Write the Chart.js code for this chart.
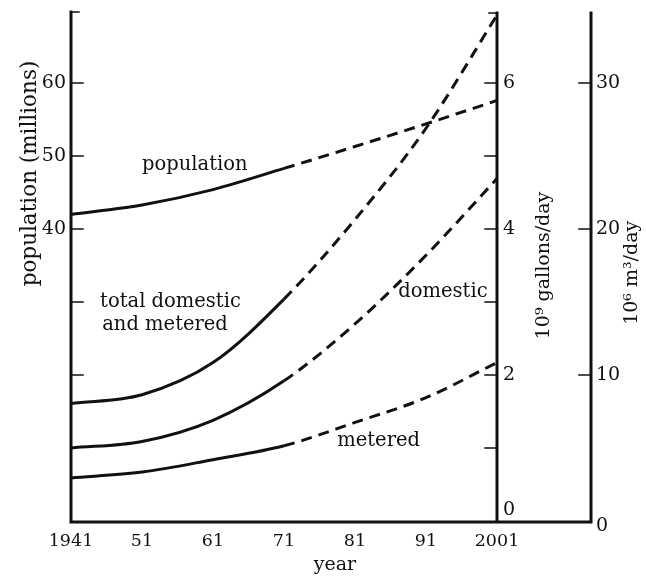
<!DOCTYPE html>
<html>
<head>
<meta charset="utf-8">
<script src="https://cdn.jsdelivr.net/npm/chart.js@4"></script>
<style>
  html, body { margin: 0; padding: 0; background: #fff; }
</style>
</head>
<body>
<canvas id="chart" width="646" height="577"></canvas>
<script>
// values
const years = [1941, 1951, 1961, 1971, 1981, 1991, 2001];
const yearLabels = ["1941", "51", "61", "71", "81", "91", "2001"];
const population = [42.0, 43.3, 45.4, 48.3, 51.3, 54.4, 57.6];  // millions
const totalUse = [1.61, 1.73, 2.17, 3.04, 4.13, 5.38, 6.93];      // 10^9 gallons/day
const domesticUse = [1.0, 1.09, 1.38, 1.92, 2.7, 3.64, 4.69];
const meteredUse = [0.59, 0.67, 0.84, 1.03, 1.35, 1.69, 2.17];
const lastMeasured = 1971; // projection (dashed) after this year

const popTicks = [20, 30, 40, 50, 60];
const popTickLabels = [40, 50, 60];
const galTicks = [1, 2, 3, 4, 5, 6];
const galTickLabels = [0, 2, 4, 6];
const m3Ticks = [10, 20, 30];
const m3TickLabels = [0, 10, 20, 30];

const FONT = "'DejaVu Serif', serif";
const INK = "#111";

const lineStyle = {
  borderColor: INK,
  borderWidth: 3,
  pointRadius: 0,
  fill: false,
  cubicInterpolationMode: "monotone",
  borderCapStyle: "butt",
  segment: {
    borderDash: (ctx) => (ctx.p0.parsed.x >= lastMeasured ? [11, 7] : undefined),
  },
};

const toPoints = (vals) => vals.map((v, i) => ({ x: years[i], y: v }));

const axesPlugin = {
  id: "axesPlugin",
  afterDraw(chart) {
    const { ctx, chartArea, scales } = chart;
    const { left, right, top, bottom } = chartArea;
    const m3X = right + 94;
    const yPop = scales.yPop, yGal = scales.yGal, yM3 = scales.yM3, x = scales.x;

    ctx.save();
    ctx.strokeStyle = INK;
    ctx.fillStyle = INK;
    ctx.lineCap = "square";

    // axis lines
    ctx.lineWidth = 3;
    ctx.beginPath();
    ctx.moveTo(left, top + 2);
    ctx.lineTo(left, bottom + 1);
    ctx.lineTo(m3X, bottom + 1);
    ctx.moveTo(right, top + 3);
    ctx.lineTo(right, bottom + 1);
    ctx.moveTo(m3X, top + 3);
    ctx.lineTo(m3X, bottom + 1);
    ctx.stroke();

    // little serifs at axis tops
    ctx.lineWidth = 1.5;
    ctx.beginPath();
    ctx.moveTo(left, top + 2);
    ctx.lineTo(left + 8, top + 2);
    ctx.moveTo(right, top + 3);
    ctx.lineTo(right - 8, top + 3);
    ctx.stroke();

    // tick marks
    ctx.lineWidth = 1.5;
    ctx.beginPath();
    popTicks.forEach((v) => {
      const py = yPop.getPixelForValue(v);
      ctx.moveTo(left, py);
      ctx.lineTo(left + 12, py);
    });
    galTicks.forEach((v) => {
      const py = yGal.getPixelForValue(v);
      ctx.moveTo(right - 12, py);
      ctx.lineTo(right, py);
    });
    m3Ticks.forEach((v) => {
      const py = yM3.getPixelForValue(v);
      ctx.moveTo(m3X - 12, py);
      ctx.lineTo(m3X, py);
    });
    ctx.stroke();

    // tick labels
    ctx.font = "19px " + FONT;
    ctx.textBaseline = "middle";
    ctx.textAlign = "right";
    popTickLabels.forEach((v) => {
      ctx.fillText(String(v), left - 5, yPop.getPixelForValue(v));
    });
    ctx.textAlign = "left";
    galTickLabels.forEach((v) => {
      const py = v === 0 ? yGal.getPixelForValue(0) - 11 : yGal.getPixelForValue(v);
      ctx.fillText(String(v), right + 6, py);
    });
    m3TickLabels.forEach((v) => {
      const py = v === 0 ? yM3.getPixelForValue(0) + 5 : yM3.getPixelForValue(v);
      ctx.fillText(String(v), m3X + 5, py);
    });

    ctx.font = "17.5px " + FONT;
    ctx.textAlign = "center";
    ctx.textBaseline = "middle";
    years.forEach((yr, i) => {
      ctx.fillText(yearLabels[i], x.getPixelForValue(yr), bottom + 20);
    });

    // axis titles
    ctx.font = "19px " + FONT;
    ctx.fillText("year", (left + m3X) / 2 + 4, bottom + 44);

    const vText = (text, cx, cy) => {
      ctx.save();
      ctx.translate(cx, cy);
      ctx.rotate(-Math.PI / 2);
      ctx.fillText(text, 0, 0);
      ctx.restore();
    };
    ctx.font = "21.5px " + FONT;
    vText("population (millions)", 30, yPop.getPixelForValue(47.6));
    ctx.font = "19px " + FONT;
    vText("10\u2079 gallons/day", right + 47, yGal.getPixelForValue(3.5));
    vText("10\u2076 m\u00b3/day", m3X + 41, yM3.getPixelForValue(17));

    // curve labels
    ctx.font = "19.5px " + FONT;
    ctx.textAlign = "left";
    ctx.fillText("population", x.getPixelForValue(1951), yPop.getPixelForValue(48.8));
    ctx.fillText("total domestic", x.getPixelForValue(1945.1), yGal.getPixelForValue(3.0));
    ctx.fillText("and metered", x.getPixelForValue(1945.4), yGal.getPixelForValue(2.68));
    ctx.fillText("domestic", x.getPixelForValue(1987.1), yGal.getPixelForValue(3.14));
    ctx.fillText("metered", x.getPixelForValue(1978.5), yGal.getPixelForValue(1.1));

    ctx.restore();
  },
};

new Chart(document.getElementById("chart").getContext("2d"), {
  type: "line",
  data: {
    datasets: [
      { label: "population", data: toPoints(population), yAxisID: "yPop", ...lineStyle },
      { label: "total domestic and metered", data: toPoints(totalUse), yAxisID: "yGal", ...lineStyle },
      { label: "domestic", data: toPoints(domesticUse), yAxisID: "yGal", ...lineStyle },
      { label: "metered", data: toPoints(meteredUse), yAxisID: "yGal", ...lineStyle },
    ],
  },
  options: {
    responsive: false,
    animation: false,
    layout: { padding: { left: 71, right: 149, top: 10, bottom: 56 } },
    scales: {
      x: { type: "linear", min: 1941, max: 2001, display: false },
      yPop: { type: "linear", min: 0, max: 70, display: false },
      yGal: { type: "linear", min: 0, max: 7, display: false },
      yM3: { type: "linear", min: 0, max: 35, display: false },
    },
    plugins: {
      legend: { display: false },
      tooltip: { enabled: false },
    },
  },
  plugins: [axesPlugin],
});
</script>
</body>
</html>
